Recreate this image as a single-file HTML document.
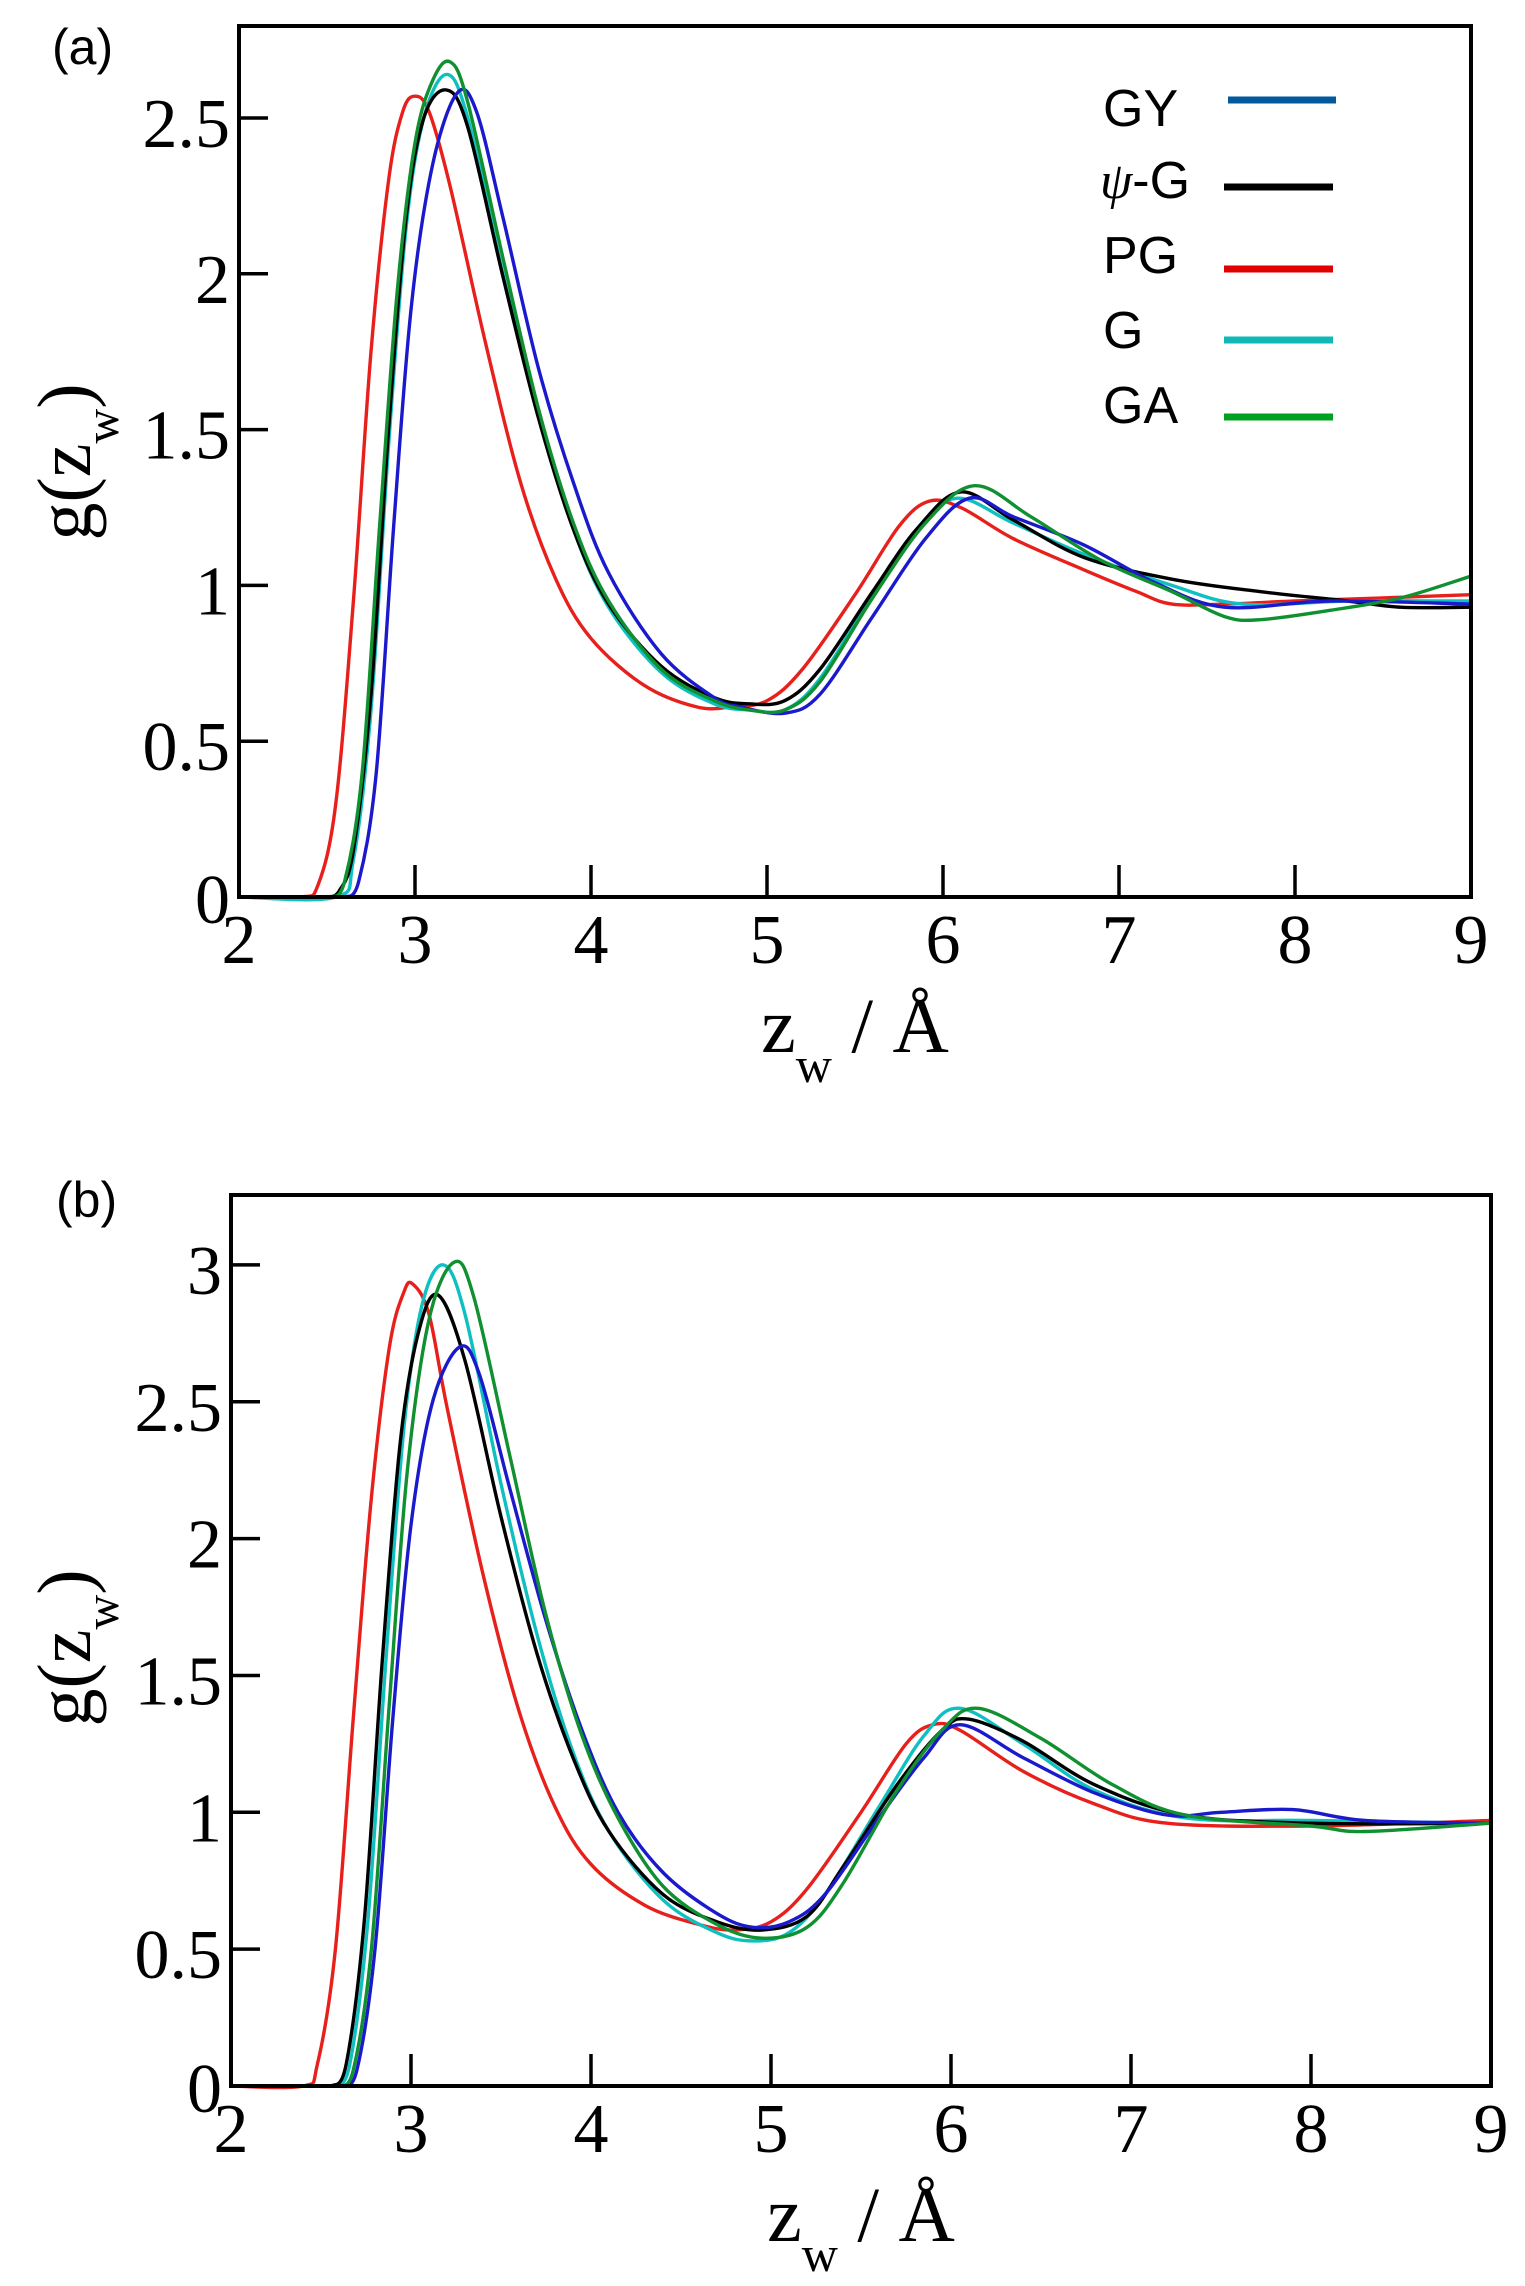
<!DOCTYPE html>
<html><head><meta charset="utf-8"><style>
html,body{margin:0;padding:0;background:#fff;}
svg{display:block;}
.t{font-family:"Liberation Serif",serif;font-size:70px;fill:#000;}
.lg{font-family:"Liberation Sans",sans-serif;font-size:52px;fill:#000;}
</style></head><body>
<svg id="s" xmlns="http://www.w3.org/2000/svg" width="1525" height="2286" viewBox="0 0 1525 2286">
<rect width="1525" height="2286" fill="#fff"/>
<text class="lg" x="52" y="64" style="font-size:50px">(a)</text>
<text class="lg" x="56" y="1217" style="font-size:50px">(b)</text>
<text class="lg" x="1103" y="126">GY</text>
<line x1="1228" y1="100" x2="1336" y2="100" stroke="#005a9c" stroke-width="7"/>
<text class="lg" x="1100" y="198"><tspan font-family="Liberation Serif" font-style="italic">ψ</tspan>-G</text>
<line x1="1224" y1="187" x2="1333" y2="187" stroke="#000" stroke-width="7"/>
<text class="lg" x="1103" y="273">PG</text>
<line x1="1224" y1="269" x2="1333" y2="269" stroke="#e00000" stroke-width="7"/>
<text class="lg" x="1103" y="348">G</text>
<line x1="1224" y1="340" x2="1333" y2="340" stroke="#10b8b8" stroke-width="7"/>
<text class="lg" x="1103" y="423">GA</text>
<line x1="1224" y1="417" x2="1333" y2="417" stroke="#00a020" stroke-width="7"/>
<g id="g"></g>
</svg>
<script>
var NS="http://www.w3.org/2000/svg",G=document.getElementById('g');
function el(t,a,txt){var e=document.createElementNS(NS,t);for(var k in a)e.setAttribute(k,a[k]);if(txt!=null)e.textContent=txt;G.appendChild(e);return e;}
function path(pts,X,Y,col){
 var p=pts.map(function(q){return [X(q[0]),Y(q[1])];});
 var d="M"+p[0][0].toFixed(1)+","+p[0][1].toFixed(1);
 for(var i=0;i<p.length-1;i++){
  var p0=p[i-1]||p[i],p1=p[i],p2=p[i+1],p3=p[i+2]||p2;
  var c1=[p1[0]+(p2[0]-p0[0])/6,p1[1]+(p2[1]-p0[1])/6],c2=[p2[0]-(p3[0]-p1[0])/6,p2[1]-(p3[1]-p1[1])/6];
  d+="C"+c1[0].toFixed(1)+","+c1[1].toFixed(1)+" "+c2[0].toFixed(1)+","+c2[1].toFixed(1)+" "+p2[0].toFixed(1)+","+p2[1].toFixed(1);
 }
 el('path',{d:d,fill:'none',stroke:col,'stroke-width':3.4,'stroke-linejoin':'round'});
}
function panel(o){
 var X=function(x){return o.x0+(x-2)*o.sx;},Y=function(y){return o.y0-y*o.sy;};
 o.series.forEach(function(s){path(s[1],X,Y,s[0]);});
 var r=X(9);
 el('rect',{x:o.x0,y:o.top,width:r-o.x0,height:o.y0-o.top,fill:'none',stroke:'#000','stroke-width':4});
 for(var i=2;i<=9;i++){var x=X(i);
  if(i>2&&i<9)el('line',{x1:x,y1:o.y0,x2:x,y2:o.y0-32,stroke:'#000','stroke-width':3.5});
  el('text',{'class':'t',x:x,y:o.y0+66,'text-anchor':'middle'},String(i));}
 o.yt.forEach(function(v){var y=Y(v);
  if(v>0)el('line',{x1:o.x0,y1:y,x2:o.x0+29,y2:y,stroke:'#000','stroke-width':3.5});
  el('text',{'class':'t',x:o.x0-9,y:v==0?y+26:y+29,'text-anchor':'end'},String(v));});
 var t=el('text',{'class':'t',x:X(5.5),y:o.y0+155,'text-anchor':'middle',style:'font-size:78px'});
 t.innerHTML='z<tspan font-size="50" dy="30">w</tspan><tspan dy="-30"> / Å</tspan>';
 var t2=el('text',{'class':'t',x:0,y:0,'text-anchor':'middle',style:'font-size:76px',transform:'translate(90,'+o.lc+') rotate(-90)'});
 t2.innerHTML='g(z<tspan font-size="48" dy="28">w</tspan><tspan dy="-28">)</tspan>';
}
var A={x0:239,sx:176,y0:897,sy:311.6,top:26,lc:462,yt:[0,0.5,1,1.5,2,2.5],series:[
['#e8201c',[[2,0],[2.35,0],[2.45,0.04],[2.55,0.3],[2.65,0.95],[2.75,1.75],[2.85,2.3],[2.93,2.52],[3.0,2.57],[3.08,2.52],[3.2,2.28],[3.4,1.78],[3.6,1.33],[3.8,1.02],[4.0,0.83],[4.3,0.68],[4.6,0.61],[4.8,0.61],[5.0,0.63],[5.2,0.73],[5.5,0.97],[5.75,1.19],[5.92,1.27],[6.1,1.25],[6.4,1.15],[6.8,1.05],[7.1,0.98],[7.3,0.94],[7.6,0.94],[8.0,0.95],[8.5,0.96],[9,0.97]]],
['#10c0c0',[[2,0],[2.55,0],[2.65,0.12],[2.75,0.6],[2.85,1.45],[2.95,2.15],[3.05,2.5],[3.18,2.64],[3.3,2.5],[3.5,2.0],[3.7,1.55],[3.9,1.18],[4.1,0.93],[4.4,0.72],[4.7,0.62],[4.9,0.6],[5.1,0.6],[5.3,0.7],[5.6,0.97],[5.85,1.18],[6.08,1.28],[6.4,1.2],[6.8,1.1],[7.3,1.0],[7.7,0.94],[8.3,0.95],[9,0.95]]],
['#000000',[[2.5,0],[2.57,0.02],[2.65,0.15],[2.75,0.65],[2.85,1.5],[2.95,2.18],[3.05,2.5],[3.18,2.59],[3.3,2.47],[3.5,1.99],[3.7,1.54],[3.9,1.18],[4.1,0.94],[4.4,0.74],[4.7,0.64],[4.9,0.62],[5.1,0.63],[5.3,0.73],[5.6,0.98],[5.85,1.18],[6.1,1.3],[6.4,1.21],[6.8,1.09],[7.3,1.02],[7.8,0.98],[8.3,0.95],[8.6,0.93],[9,0.93]]],
['#1a1acc',[[2.6,0],[2.68,0.05],[2.78,0.4],[2.88,1.2],[2.98,1.9],[3.1,2.35],[3.24,2.58],[3.35,2.52],[3.5,2.18],[3.7,1.7],[3.9,1.33],[4.1,1.04],[4.4,0.78],[4.7,0.64],[4.85,0.61],[5.1,0.59],[5.3,0.65],[5.6,0.9],[5.9,1.15],[6.15,1.28],[6.4,1.22],[6.8,1.13],[7.2,1.01],[7.6,0.93],[8.2,0.95],[9,0.94]]],
['#109030',[[2.52,0],[2.6,0.05],[2.7,0.4],[2.8,1.2],[2.9,1.95],[3.0,2.42],[3.1,2.62],[3.2,2.68],[3.3,2.55],[3.5,2.05],[3.7,1.57],[3.9,1.2],[4.1,0.95],[4.4,0.73],[4.7,0.63],[4.9,0.6],[5.1,0.6],[5.3,0.69],[5.6,0.96],[5.9,1.2],[6.18,1.32],[6.5,1.22],[6.9,1.08],[7.3,0.98],[7.6,0.9],[7.8,0.89],[8.2,0.92],[8.6,0.96],[9,1.03]]]
]};
var B={x0:231,sx:180,y0:2086,sy:273.7,top:1195,lc:1648,yt:[0,0.5,1,1.5,2,2.5,3],series:[
['#e8201c',[[2,0],[2.4,0],[2.48,0.08],[2.58,0.5],[2.68,1.35],[2.78,2.15],[2.88,2.7],[2.96,2.9],[3.01,2.93],[3.1,2.82],[3.2,2.48],[3.4,1.87],[3.6,1.37],[3.8,1.02],[4.0,0.81],[4.3,0.66],[4.6,0.59],[4.8,0.57],[5.0,0.6],[5.2,0.72],[5.5,1.0],[5.75,1.25],[5.9,1.32],[6.05,1.3],[6.4,1.15],[6.8,1.03],[7.2,0.96],[8,0.95],[9,0.97]]],
['#10c0c0',[[2.58,0],[2.66,0.08],[2.76,0.6],[2.86,1.55],[2.96,2.4],[3.06,2.85],[3.18,3.0],[3.3,2.82],[3.5,2.2],[3.7,1.65],[3.9,1.22],[4.1,0.93],[4.4,0.68],[4.7,0.56],[4.9,0.53],[5.1,0.56],[5.3,0.7],[5.6,1.02],[5.85,1.28],[6.05,1.38],[6.4,1.25],[6.8,1.08],[7.3,0.98],[8,0.97],[9,0.96]]],
['#000000',[[2.56,0],[2.64,0.08],[2.74,0.6],[2.84,1.55],[2.94,2.35],[3.04,2.75],[3.15,2.89],[3.3,2.65],[3.5,2.08],[3.7,1.58],[3.9,1.2],[4.1,0.93],[4.4,0.7],[4.7,0.6],[4.95,0.57],[5.2,0.62],[5.4,0.8],[5.7,1.1],[5.95,1.3],[6.1,1.34],[6.4,1.26],[6.8,1.1],[7.3,0.99],[8,0.96],[9,0.96]]],
['#1a1acc',[[2.62,0],[2.7,0.06],[2.8,0.5],[2.9,1.35],[3.0,2.05],[3.12,2.5],[3.27,2.7],[3.38,2.6],[3.55,2.18],[3.75,1.7],[3.95,1.3],[4.15,1.0],[4.4,0.78],[4.7,0.63],[4.9,0.58],[5.1,0.6],[5.3,0.7],[5.6,0.98],[5.85,1.2],[6.05,1.32],[6.4,1.2],[6.8,1.07],[7.2,0.99],[7.5,1.0],[7.9,1.01],[8.3,0.97],[9,0.96]]],
['#109030',[[2.6,0],[2.68,0.06],[2.78,0.5],[2.88,1.4],[2.98,2.25],[3.1,2.8],[3.24,3.01],[3.35,2.88],[3.55,2.3],[3.75,1.72],[3.95,1.28],[4.15,0.98],[4.4,0.73],[4.7,0.59],[4.95,0.54],[5.2,0.58],[5.4,0.74],[5.7,1.08],[5.95,1.3],[6.15,1.38],[6.5,1.27],[6.9,1.1],[7.3,0.99],[8,0.95],[8.3,0.93],[9,0.96]]]
]};
panel(A);panel(B);
</script>
</body></html>
